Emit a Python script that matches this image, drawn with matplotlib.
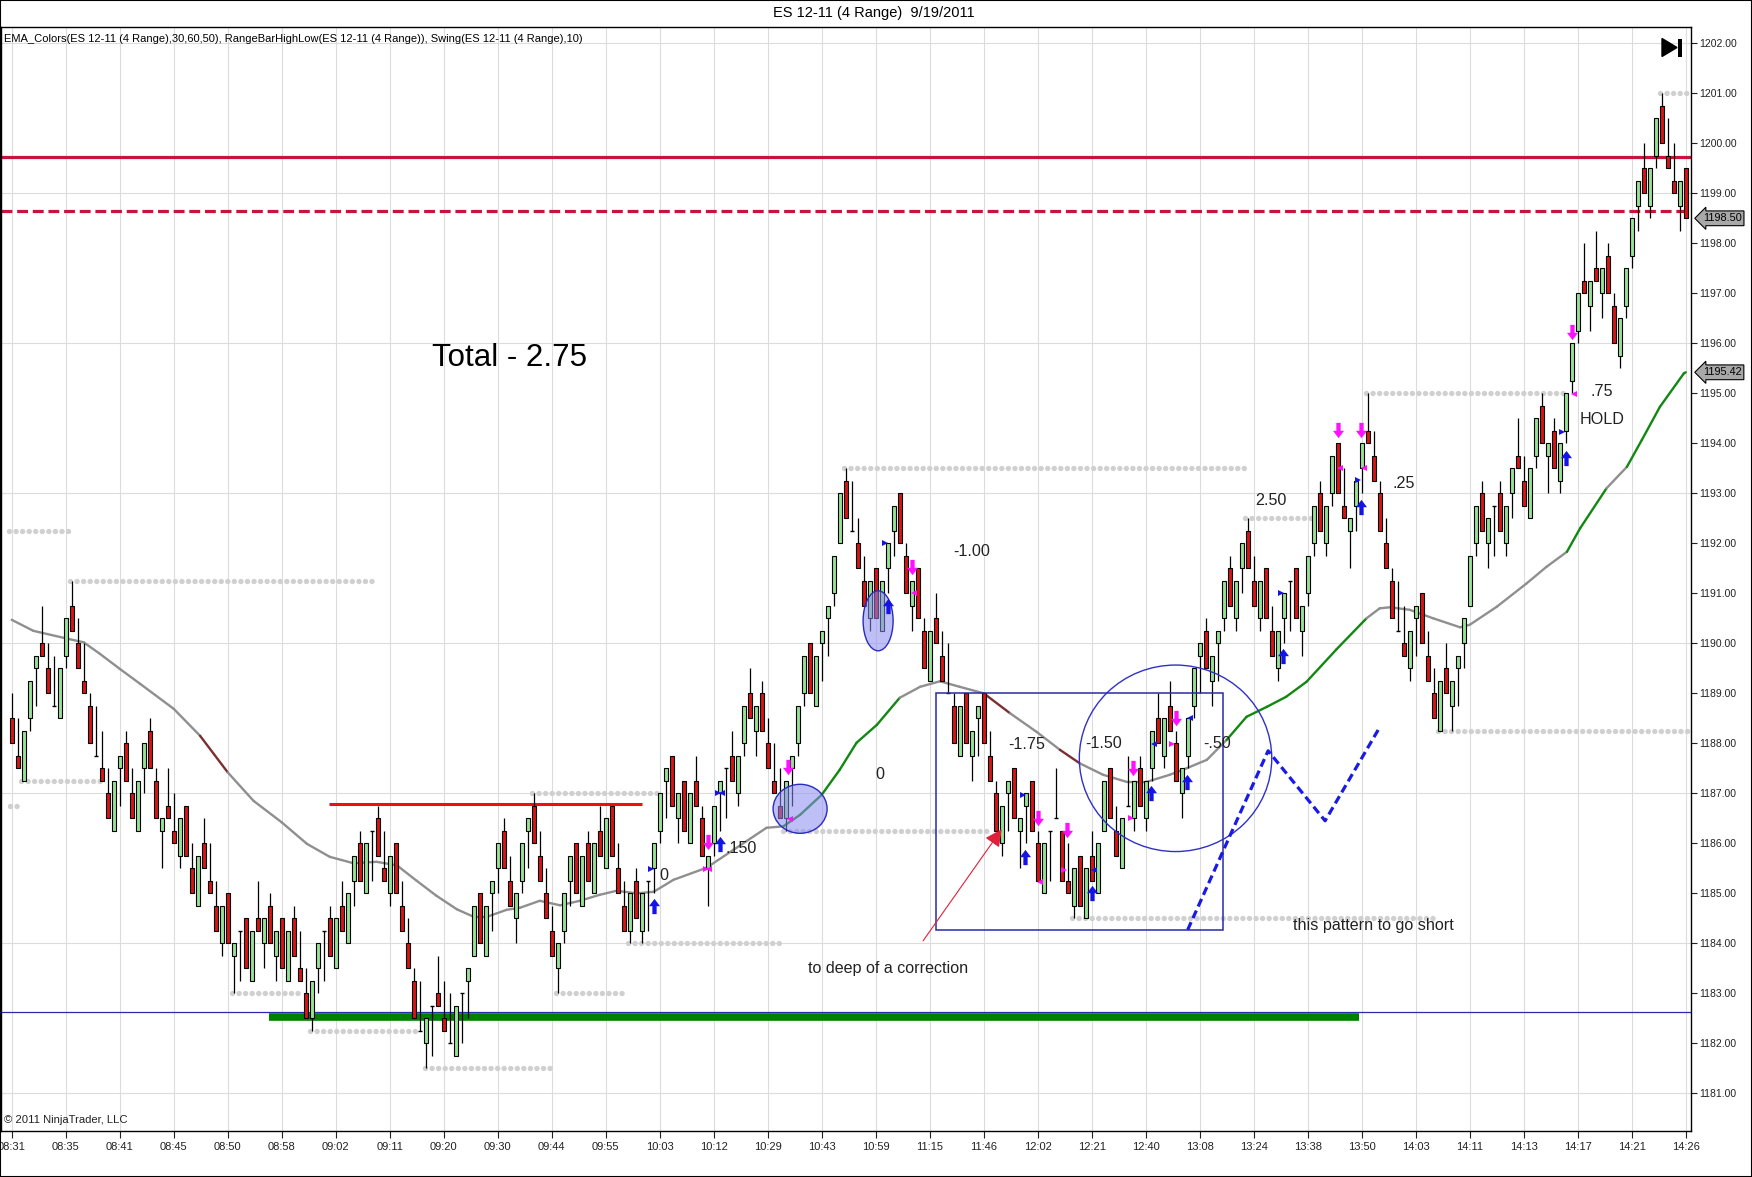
import numpy as np
import matplotlib
matplotlib.use('Agg')
import matplotlib.pyplot as plt
from matplotlib.patches import Rectangle, Ellipse, Polygon
from matplotlib.path import Path
from matplotlib.collections import LineCollection
import matplotlib.transforms as mtransforms

plt.rcParams['font.family'] = ['Liberation Sans', 'DejaVu Sans']

# ---------------- data (4-tick range bars, ES 12-11, 9/19/2011) ----------------
opens = [
    1188.5, 1187.75, 1187.25, 1188.5, 1189.5, 1190, 1189.5, 1188.75, 1188.5, 1189.75,
    1190.75, 1190, 1189.25, 1188.75, 1187.75, 1187.5, 1187, 1186.25, 1187.5, 1188,
    1187, 1186.25, 1187.5, 1188.25, 1187.25, 1186.25, 1186.75, 1186.25, 1185.75, 1186.75,
    1185.5, 1184.75, 1186, 1185.25, 1184.75, 1184, 1185, 1183.75, 1184.25, 1184.5,
    1183.25, 1184.5, 1184, 1184.75, 1183.75, 1184.5, 1183.25, 1184.5, 1183.5, 1183,
    1182.5, 1183.5, 1184.25, 1184.5, 1183.5, 1184.75, 1184, 1185.25, 1186, 1185,
    1186.25, 1186.5, 1185.5, 1185, 1186, 1184.75, 1184, 1183.25, 1182.25, 1182,
    1182.75, 1183, 1182.5, 1182, 1181.75, 1183, 1183.25, 1183.75, 1185, 1183.75,
    1185, 1185.5, 1186.25, 1185.25, 1184.5, 1185.25, 1186.25, 1186.75, 1185.75, 1185,
    1184.25, 1183.5, 1184.25, 1185.25, 1186, 1184.75, 1186, 1185, 1186.25, 1185.5,
    1186.75, 1185.5, 1184.75, 1184.25, 1185.25, 1184.25, 1185.25, 1185.5, 1186.25, 1187.25,
    1187.75, 1186.5, 1187.25, 1186, 1187.25, 1186.5, 1185.5, 1186, 1187, 1187.5,
    1187.75, 1187, 1188, 1189, 1188.25, 1189, 1188, 1187.25, 1186.75, 1186.5,
    1187.5, 1188, 1189, 1190, 1188.75, 1190, 1190.5, 1191, 1192, 1193.25,
    1192.25, 1192, 1191.25, 1190.5, 1191.5, 1190.25, 1191.5, 1192.25, 1193, 1191.75,
    1190.75, 1191.5, 1190.25, 1189.25, 1190.5, 1189.75, 1189, 1188.75, 1187.75, 1189,
    1187.75, 1188.5, 1189, 1187.75, 1187, 1186, 1187, 1187.5, 1186.25, 1186.75,
    1187.25, 1186, 1185, 1186.25, 1186.5, 1186.25, 1185.25, 1184.75, 1185.75, 1184.5,
    1185.75, 1185, 1186.25, 1187.5, 1186.25, 1185.5, 1186.75, 1186.5, 1187.5, 1186.5,
    1187.5, 1188.5, 1187.75, 1188.75, 1188, 1187, 1187.75, 1188.75, 1189.75, 1190.25,
    1189.25, 1190, 1190.5, 1191.5, 1190.5, 1191.5, 1192.25, 1191.25, 1190.5, 1191.5,
    1190.25, 1189.5, 1190.5, 1191.25, 1191.5, 1190.25, 1191, 1192, 1193, 1192,
    1193, 1194, 1192.75, 1192.25, 1192.75, 1193.5, 1194.25, 1193.75, 1193, 1192,
    1191.25, 1190.25, 1190, 1189.5, 1190.5, 1191, 1189.75, 1189, 1188.25, 1189.5,
    1188.75, 1189.5, 1190, 1190.75, 1192, 1193, 1192, 1192.75, 1193, 1192,
    1193, 1193.75, 1193.25, 1192.5, 1193.75, 1194.75, 1193.75, 1194.25, 1193.25, 1194.25,
    1195.25, 1196.25, 1197.25, 1196.75, 1197.5, 1197, 1197.75, 1196.75, 1195.75, 1196.75,
    1197.75, 1198.75, 1199.5, 1198.75, 1199.75, 1200.75, 1199.75, 1199.25, 1198.75, 1199.5,
]
highs = [
    1189, 1188.5, 1188.25, 1189.25, 1189.75, 1190.75, 1190, 1189.75, 1189.5, 1190.5,
    1191.25, 1190.5, 1190, 1189, 1188.75, 1188.25, 1187.5, 1187.25, 1187.75, 1188.25,
    1187.5, 1187.25, 1188, 1188.5, 1187.5, 1186.5, 1187.5, 1187, 1186.5, 1186.75,
    1186, 1185.75, 1186.5, 1186, 1185.25, 1184.75, 1185, 1184, 1184.25, 1184.5,
    1184.25, 1185.25, 1184.5, 1185, 1184.25, 1184.5, 1184.25, 1184.75, 1184.25, 1183.5,
    1183.25, 1184, 1184.25, 1184.75, 1184.5, 1185.25, 1185, 1185.75, 1186.25, 1186,
    1186.25, 1186.75, 1186.25, 1185.75, 1186, 1185.25, 1184.5, 1183.5, 1183.25, 1182.5,
    1182.75, 1183.75, 1183.25, 1183, 1182.75, 1183, 1183.5, 1184.75, 1185, 1184.75,
    1185.25, 1186, 1186.5, 1185.75, 1185, 1186, 1186.5, 1187, 1186.25, 1185.5,
    1184.75, 1184, 1185, 1185.75, 1186, 1185.75, 1186.25, 1186, 1186.75, 1186.5,
    1186.75, 1186, 1185.25, 1185, 1185.5, 1185, 1185.25, 1186, 1187, 1187.5,
    1187.75, 1187, 1187.25, 1187, 1187.75, 1186.75, 1185.75, 1186.75, 1187.25, 1187.5,
    1188.25, 1187.75, 1188.75, 1189.5, 1188.75, 1189.25, 1188.5, 1188, 1187.5, 1187.25,
    1187.75, 1188.75, 1189.75, 1190, 1189.75, 1190.25, 1190.75, 1191.75, 1193, 1193.5,
    1193.25, 1192.5, 1191.75, 1191.25, 1191.5, 1191.25, 1192, 1192.75, 1193, 1192,
    1191.25, 1191.5, 1190.5, 1190.25, 1191, 1190.25, 1190, 1189, 1188.75, 1189,
    1188.25, 1188.75, 1189, 1188.25, 1187.25, 1186.75, 1187.25, 1187.5, 1186.5, 1187,
    1187.25, 1186.25, 1186, 1186.25, 1187.5, 1186.25, 1186, 1185.5, 1185.75, 1185.5,
    1186.25, 1186, 1187.25, 1187.5, 1186.75, 1186.5, 1187.75, 1187.25, 1187.75, 1187.25,
    1188.25, 1189, 1188.5, 1189.25, 1188.25, 1187.5, 1188.5, 1189.5, 1190, 1190.5,
    1189.75, 1190.25, 1191.25, 1191.75, 1191.25, 1192, 1192.5, 1191.75, 1191.25, 1191.5,
    1190.75, 1190.25, 1191, 1191.25, 1191.5, 1190.75, 1191.75, 1192.75, 1193.25, 1192.75,
    1193.75, 1194, 1193.5, 1192.5, 1193.25, 1194, 1195, 1194.25, 1193.25, 1192.5,
    1191.5, 1191.25, 1190.75, 1190.25, 1190.75, 1191, 1190.25, 1189.5, 1189.25, 1190,
    1189.25, 1189.75, 1190.5, 1191.75, 1192.75, 1193.25, 1192.5, 1192.75, 1193.25, 1192.75,
    1193.5, 1194.5, 1193.75, 1193.5, 1194.5, 1195, 1194, 1194.5, 1194, 1195,
    1196, 1197, 1198, 1197.25, 1198.25, 1197.5, 1198, 1197, 1196.5, 1197.5,
    1198.5, 1199.25, 1200, 1199.5, 1200.5, 1201, 1200.5, 1200, 1199.25, 1199.5,
]
lows = [
    1188, 1187.5, 1187.25, 1188.25, 1188.75, 1189.75, 1189, 1188.75, 1188.5, 1189.5,
    1190.25, 1189.5, 1189, 1188, 1187.75, 1187.25, 1186.5, 1186.25, 1186.75, 1187.25,
    1186.5, 1186.25, 1187, 1187.5, 1186.5, 1185.5, 1186.5, 1186, 1185.5, 1185.75,
    1185, 1184.75, 1185.5, 1185, 1184.25, 1183.75, 1184, 1183, 1183.25, 1183.5,
    1183.25, 1184.25, 1183.5, 1184, 1183.25, 1183.5, 1183.25, 1183.75, 1183.25, 1182.5,
    1182.25, 1183, 1183.25, 1183.75, 1183.5, 1184.25, 1184, 1184.75, 1185.25, 1185,
    1185.25, 1185.75, 1185.25, 1184.75, 1185, 1184.25, 1183.5, 1182.5, 1182.25, 1181.5,
    1181.75, 1182.75, 1182.25, 1182, 1181.75, 1182, 1182.5, 1183.75, 1184, 1183.75,
    1184.25, 1185, 1185.5, 1184.75, 1184, 1185, 1185.5, 1186, 1185.25, 1184.5,
    1183.75, 1183, 1184, 1184.75, 1185, 1184.75, 1185.25, 1185, 1185.75, 1185.5,
    1185.75, 1185, 1184.25, 1184, 1184.5, 1184, 1184.25, 1185, 1186, 1186.5,
    1186.75, 1186, 1186.25, 1186, 1186.75, 1185.75, 1184.75, 1185.75, 1186.25, 1186.5,
    1187.25, 1186.75, 1187.75, 1188.5, 1187.75, 1188.25, 1187.5, 1187, 1186.5, 1186.25,
    1186.75, 1187.75, 1188.75, 1189, 1188.75, 1189.25, 1189.75, 1190.75, 1192, 1192.5,
    1192.25, 1191.5, 1190.75, 1190.25, 1190.5, 1190.25, 1191, 1191.75, 1192, 1191,
    1190.25, 1190.5, 1189.5, 1189.25, 1190, 1189.25, 1189, 1188, 1187.75, 1188,
    1187.25, 1187.75, 1188, 1187.25, 1186.25, 1185.75, 1186.25, 1186.5, 1185.5, 1186,
    1186.25, 1185.25, 1185, 1185.25, 1186.5, 1185.25, 1185, 1184.5, 1184.75, 1184.5,
    1185.25, 1185, 1186.25, 1186.5, 1185.75, 1185.5, 1186.75, 1186.25, 1186.75, 1186.25,
    1187.25, 1188, 1187.5, 1188.25, 1187.25, 1186.5, 1187.5, 1188.5, 1189, 1189.5,
    1188.75, 1189.25, 1190.25, 1190.75, 1190.25, 1191, 1191.5, 1190.75, 1190.25, 1190.5,
    1189.75, 1189.25, 1190, 1190.25, 1190.5, 1189.75, 1190.75, 1191.75, 1192.25, 1191.75,
    1192.75, 1193, 1192.5, 1191.5, 1192.25, 1193, 1194, 1193.25, 1192.25, 1191.5,
    1190.5, 1190.25, 1189.75, 1189.25, 1189.75, 1190, 1189.25, 1188.5, 1188.25, 1189,
    1188.25, 1188.75, 1189.5, 1190.75, 1191.75, 1192.25, 1191.5, 1191.75, 1192.25, 1191.75,
    1192.5, 1193.5, 1192.75, 1192.5, 1193.5, 1194, 1193, 1193.5, 1193, 1194,
    1195, 1196, 1197, 1196.25, 1197.25, 1196.5, 1197, 1196, 1195.5, 1196.5,
    1197.5, 1198.25, 1199, 1198.5, 1199.5, 1200, 1199.5, 1199, 1198.25, 1198.5,
]
closes = [
    1188, 1187.5, 1188.25, 1189.25, 1189.75, 1189.75, 1189, 1188.75, 1189.5, 1190.5,
    1190.25, 1189.5, 1189, 1188, 1187.75, 1187.25, 1186.5, 1187.25, 1187.75, 1187.25,
    1186.5, 1187.25, 1188, 1187.5, 1186.5, 1186.5, 1186.5, 1186, 1186.5, 1185.75,
    1185, 1185.75, 1185.5, 1185, 1184.25, 1184.75, 1184, 1184, 1184.25, 1183.5,
    1184.25, 1184.25, 1184.5, 1184, 1184.25, 1183.5, 1184.25, 1183.75, 1183.25, 1182.5,
    1183.25, 1184, 1184.25, 1183.75, 1184.5, 1184.25, 1185, 1185.75, 1185.25, 1186,
    1186.25, 1185.75, 1185.25, 1185.75, 1185, 1184.25, 1183.5, 1182.5, 1182.25, 1182.5,
    1182.75, 1182.75, 1182.25, 1182, 1182.75, 1183, 1183.5, 1184.75, 1184, 1184.75,
    1185.25, 1186, 1185.5, 1184.75, 1185, 1186, 1186.5, 1186, 1185.25, 1184.5,
    1183.75, 1184, 1185, 1185.75, 1185, 1185.75, 1185.25, 1186, 1185.75, 1186.5,
    1185.75, 1185, 1184.25, 1185, 1184.5, 1185, 1185.25, 1186, 1187, 1187.5,
    1186.75, 1187, 1186.25, 1187, 1186.75, 1185.75, 1185.75, 1186.75, 1187.25, 1187.5,
    1187.25, 1187.75, 1188.75, 1188.5, 1188.75, 1188.25, 1187.5, 1187, 1186.5, 1187.25,
    1187.75, 1188.75, 1189.75, 1189, 1189.75, 1190.25, 1190.75, 1191.75, 1193, 1192.5,
    1192.25, 1191.5, 1190.75, 1191.25, 1190.5, 1191.25, 1192, 1192.75, 1192, 1191,
    1191.25, 1190.5, 1189.5, 1190.25, 1190, 1189.25, 1189, 1188, 1188.75, 1188,
    1188.25, 1188.75, 1188, 1187.25, 1186.25, 1186.75, 1187.25, 1186.5, 1186.5, 1187,
    1186.25, 1185.25, 1186, 1186.25, 1186.5, 1185.25, 1185, 1185.5, 1184.75, 1185.5,
    1185.25, 1186, 1187.25, 1186.5, 1185.75, 1186.5, 1186.75, 1187.25, 1186.75, 1187.25,
    1188.25, 1188, 1188.5, 1188.25, 1187.25, 1187.5, 1188.5, 1189.5, 1190, 1189.5,
    1189.75, 1190.25, 1191.25, 1190.75, 1191.25, 1192, 1191.5, 1190.75, 1191.25, 1190.5,
    1189.75, 1190.25, 1191, 1191.25, 1190.5, 1190.75, 1191.75, 1192.75, 1192.25, 1192.75,
    1193.75, 1193, 1192.5, 1192.5, 1193.25, 1194, 1194, 1193.25, 1192.25, 1191.5,
    1190.5, 1190.25, 1189.75, 1190.25, 1190.75, 1190, 1189.25, 1188.5, 1189.25, 1189,
    1189.25, 1189.75, 1190.5, 1191.75, 1192.75, 1192.25, 1192.5, 1192.75, 1192.25, 1192.75,
    1193.5, 1193.5, 1192.75, 1193.5, 1194.5, 1194, 1194, 1193.5, 1194, 1195,
    1196, 1197, 1197, 1197.25, 1197.25, 1197.5, 1197, 1196, 1196.5, 1197.5,
    1198.5, 1199.25, 1199, 1199.5, 1200.5, 1200, 1199.5, 1199, 1199.25, 1198.5,
]

time_labels = ['08:31', '08:35', '08:41', '08:45', '08:50', '08:58', '09:02', '09:11',
               '09:20', '09:30', '09:44', '09:55', '10:03', '10:12', '10:29', '10:43',
               '10:59', '11:15', '11:46', '12:02', '12:21', '12:40', '13:08', '13:24',
               '13:38', '13:50', '14:03', '14:11', '14:13', '14:17', '14:21', '14:26']

# EMA (at bar positions)
ema_bar = [0, 3.6, 9, 12, 14.7, 18, 21.4, 27, 31.4, 36, 40.3, 45, 49.2, 53, 57, 60.8,
           64.2, 67.5, 70.8, 74.2, 77, 79.2, 82.5, 84.7, 88, 91.4, 94.7, 98, 100.8,
           104.2, 107, 110.3, 115.8, 120.3, 125.8, 128.6, 131.4, 135, 138, 140.8, 144.2,
           148, 151.4, 154.7, 158, 162, 166.4, 170.8, 174.7, 178, 181.9, 185.8, 189.2,
           193, 195.8, 199.2, 202.5, 205.8, 209.2, 212.4, 215.8, 220.8, 225.8, 228,
           229.7, 233, 236.9, 241.4, 243, 247.5, 252.5, 255.8, 259.2, 261.4, 265.8,
           269.2, 271.7, 274.7, 278.7, 279]
ema_val = [1190.47, 1190.25, 1190.1, 1190.02, 1189.79, 1189.49, 1189.19, 1188.69, 1188.15,
           1187.42, 1186.85, 1186.42, 1185.99, 1185.73, 1185.6, 1185.63, 1185.56, 1185.25,
           1184.95, 1184.68, 1184.53, 1184.53, 1184.67, 1184.71, 1184.85, 1184.76, 1184.85,
           1184.97, 1185.05, 1185.0, 1185.03, 1185.27, 1185.51, 1185.87, 1186.31, 1186.34,
           1186.57, 1186.97, 1187.47, 1188.01, 1188.37, 1188.91, 1189.13, 1189.24, 1189.13,
           1189.0, 1188.6, 1188.23, 1187.87, 1187.6, 1187.37, 1187.23, 1187.23, 1187.37,
           1187.5, 1187.67, 1188.07, 1188.53, 1188.73, 1188.93, 1189.23, 1189.88, 1190.5,
           1190.7, 1190.72, 1190.67, 1190.5, 1190.32, 1190.37, 1190.73, 1191.2, 1191.53,
           1191.83, 1192.3, 1193.1, 1193.53, 1194.07, 1194.73, 1195.4, 1195.42]
ema_rising = [(128.6, 148), (202.5, 225.8), (259.2, 265.8), (269.2, 279)]
ema_falling = [(31.4, 36), (162, 166.4), (174.7, 178)]

# Swing levels: (first bar, last bar, price)
swing_levels = [(-0.5, 9.5, 1192.25), (9.7, 60.6, 1191.25), (1.6, 15.2, 1187.25),
                (-0.3, 1.4, 1186.75), (36.7, 48.3, 1183.0), (49.7, 68.0, 1182.25),
                (68.9, 90.2, 1181.5), (86.7, 108.4, 1187.0), (90.8, 102.2, 1183.0),
                (102.7, 128.4, 1184.0), (138.7, 205.5, 1193.5), (128.5, 163.0, 1186.25),
                (205.6, 217.0, 1192.5), (176.7, 237.2, 1184.5), (225.7, 259.4, 1195.0),
                (237.7, 279.7, 1188.25), (274.7, 279.4, 1201.0)]

# Signal markers (bar, price)
blue_up = [(107, 1184.74), (118, 1185.99), (146, 1190.75), (168.9, 1185.73), (180, 1185.0),
           (189.9, 1187.0), (195.9, 1187.23), (211.9, 1189.75), (224.9, 1192.73), (259, 1193.7)]
pink_down = [(116, 1186.02), (129.4, 1187.53), (150, 1191.53), (171, 1186.5), (175.9, 1186.27),
             (186.8, 1187.5), (194, 1188.51), (221, 1194.27), (224.9, 1194.27), (260, 1196.23)]
blue_right = [(106.5, 1185.49), (117.7, 1187.0), (145.6, 1192.0), (168.5, 1186.97),
              (211.5, 1191.0), (224.4, 1193.27), (258.4, 1194.23)]
blue_left = [(118.4, 1187.0), (180.4, 1185.47), (190.4, 1187.99), (196.4, 1188.5)]
pink_left = [(116.3, 1185.49), (129.7, 1186.49), (150.4, 1191.0), (171.4, 1185.23),
             (221.4, 1193.5), (225.4, 1193.5), (260.4, 1194.99)]
pink_right = [(115.7, 1185.49), (175.4, 1185.47), (186.5, 1186.5), (193.3, 1187.99)]

# Horizontal reference lines
resistance_solid = 1199.72
resistance_dashed = 1198.65
blue_level = 1182.62
green_support = (42.9, 224.5, 1182.53)
red_top = (52.9, 105.0, 1186.79)

# Drawings
box = (154.0, 201.9, 1184.27, 1189.0)
big_circle = (193.97, 1187.70, 32.07, 3.73)
small_ellipses = [(131.4, 1186.69, 9.0, 0.98), (144.4, 1190.45, 5.0, 1.2)]
red_arrow = ((151.9, 1184.05), (165.0, 1186.28))
pattern_bar = [196.0, 209.4, 218.9, 228.0]
pattern_price = [1184.27, 1187.85, 1186.45, 1188.32]

total_text = ('Total - 2.75', 70.0, 1195.55)
notes = [('-1.00', 156.9, 1191.83), ('0', 143.9, 1187.37), ('.150', 118.9, 1185.89),
         ('0', 107.9, 1185.35), ('-1.75', 166.05, 1187.97), ('-1.50', 178.9, 1187.99),
         ('-.50', 198.55, 1187.99), ('2.50', 207.2, 1192.85), ('.25', 230.2, 1193.2),
         ('.75', 263.05, 1195.03), ('HOLD', 261.4, 1194.47),
         ('to deep of a correction', 132.7, 1183.49),
         ('this pattern to go short', 213.55, 1184.35)]

last_price = 1198.50
ema_last = 1195.42

# ---------------- figure ----------------
W, H = 1752, 1177
fig = plt.figure(figsize=(W / 100, H / 100), dpi=100)
ax = fig.add_axes([1 / W, (H - 1131.3) / H, 1690 / W, (1131.3 - 27.3) / H])
ax.set_xlim(-1.78, 279.88)
ax.set_ylim(1180.24, 1202.32)

n = len(opens)
x = np.arange(n)
o = np.array(opens); h = np.array(highs); l = np.array(lows); c = np.array(closes)

# grid
for gp in np.arange(1181, 1203, 3):
    ax.axhline(gp, color='#dcdcdc', lw=0.8, zorder=0)
tick_pos = np.arange(0, n, 9)
for tp in tick_pos:
    ax.axvline(tp, color='#dcdcdc', lw=0.8, zorder=0)

# swing dots
for a, b, p in swing_levels:
    ax.plot([a, b], [p, p], color='#d0d0d0', lw=3.9, linestyle=(0, (0.01, 1.2)),
            dash_capstyle='round', solid_capstyle='round', zorder=1)

# horizontal lines
ax.axhline(resistance_solid, color='#c8143c', lw=2.3, zorder=2)
ax.axhline(resistance_dashed, color='#c8143c', lw=2.3, linestyle=(0, (3.4, 1.5)), zorder=2)
ax.axhline(blue_level, color='#2a2ab0', lw=0.9, zorder=2)
ax.plot([green_support[0], green_support[1]], [green_support[2]] * 2,
        color='#008000', lw=5.5, solid_capstyle='butt', zorder=2)
ax.plot([red_top[0], red_top[1]], [red_top[2]] * 2, color='#ee1010', lw=2.2,
        solid_capstyle='butt', zorder=2)

# EMA
segs, cols = [], []
for i in range(len(ema_bar) - 1):
    segs.append([(ema_bar[i], ema_val[i]), (ema_bar[i + 1], ema_val[i + 1])])
    col = '#8f8f8f'
    for a, b in ema_rising:
        if ema_bar[i] >= a and ema_bar[i + 1] <= b:
            col = '#118811'
    for a, b in ema_falling:
        if ema_bar[i] >= a and ema_bar[i + 1] <= b:
            col = '#7a3030'
    cols.append(col)
ax.add_collection(LineCollection(segs, colors=cols, linewidths=1.7, zorder=2.5,
                                 capstyle='round', joinstyle='round'))

# candles
ax.vlines(x, l, h, color='black', lw=0.9, zorder=3)
bw = 0.66
body_lo = np.minimum(o, c)
body_hi = np.maximum(o, c)
is_doji = body_hi == body_lo
colors = np.where(c > o, '#95e495', '#d81414')
nd = ~is_doji
ax.bar(x[nd], (body_hi - body_lo)[nd], bottom=body_lo[nd], width=bw, color=colors[nd],
       edgecolor='black', linewidth=0.8, zorder=4)
ax.hlines(o[is_doji], x[is_doji] - bw / 2, x[is_doji] + bw / 2, color='black', lw=1.0, zorder=4)

# signal markers
up_path = Path([(-0.14, -0.5), (0.14, -0.5), (0.14, 0.02), (0.36, 0.02), (0, 0.5),
                (-0.36, 0.02), (-0.14, 0.02), (-0.14, -0.5)], closed=True)
down_path = Path([(vx, -vy) for vx, vy in up_path.vertices], closed=True)


def mk(lst, marker, color, size):
    if lst:
        xs, ys = zip(*lst)
        ax.plot(xs, ys, linestyle='none', marker=marker, color=color, markersize=size,
                markeredgewidth=0, zorder=6)


mk(blue_up, up_path, '#1414e6', 11)
mk(pink_down, down_path, '#ff10ff', 11)
mk(blue_right, '>', '#1414e6', 5)
mk(blue_left, '<', '#1414e6', 5)
mk(pink_left, '<', '#ff10ff', 5)
mk(pink_right, '>', '#ff10ff', 5)

# drawings
ax.add_patch(Rectangle((box[0], box[2]), box[1] - box[0], box[3] - box[2], fill=False,
                       edgecolor='#2a2aa8', lw=1.1, zorder=5))
ax.add_patch(Ellipse((big_circle[0], big_circle[1]), big_circle[2], big_circle[3], fill=False,
                     edgecolor='#3030c8', lw=1.0, zorder=5))
for ex, ey, ew, eh in small_ellipses:
    ax.add_patch(Ellipse((ex, ey), ew, eh, facecolor=(0.55, 0.55, 0.95, 0.55),
                         edgecolor='#2a2ac0', lw=1.0, zorder=5))
ax.annotate('', xy=red_arrow[1], xytext=red_arrow[0],
            arrowprops=dict(arrowstyle='-|>', color='#e0203a', lw=0.8, mutation_scale=26,
                            shrinkA=0, shrinkB=0), zorder=5)
ax.plot(pattern_bar, pattern_price, color='#1a1ae6', lw=2.3, linestyle=(0, (2.6, 1.4)),
        zorder=5)

# text notes
ax.text(total_text[1], total_text[2], total_text[0], fontsize=22.5, ha='left', va='baseline',
        color='black', zorder=7)
for t, tx, ty in notes:
    ax.text(tx, ty, t, fontsize=11.6, ha='left', va='center', color='#222222', zorder=7)

ax.text(0.0015, 0.9893, 'EMA_Colors(ES 12-11 (4 Range),30,60,50), RangeBarHighLow(ES 12-11 '
        '(4 Range)), Swing(ES 12-11 (4 Range),10)', transform=ax.transAxes, fontsize=8,
        ha='left', va='center', color='black')
ax.text(0.0015, 0.0055, '\u00a9 2011 NinjaTrader, LLC', transform=ax.transAxes, fontsize=8.1,
        ha='left', va='bottom', color='#222222')

# axes styling
ax.yaxis.tick_right()
ax.set_yticks(np.arange(1181, 1203, 1))
ax.set_yticklabels(['%.2f' % v for v in np.arange(1181, 1203, 1)])
ax.tick_params(axis='y', direction='out', length=4, width=0.8, labelsize=7.5, pad=2,
               colors='#222222')
ax.set_xticks(tick_pos)
ax.set_xticklabels(time_labels)
ax.tick_params(axis='x', direction='out', length=5, width=0.8, labelsize=8, pad=3,
               colors='#222222')
for s in ax.spines.values():
    s.set_color('black')
    s.set_linewidth(1.0)

# price flags on the right axis
btrans = mtransforms.blended_transform_factory(ax.transAxes, ax.transData)
for val in (last_price, ema_last):
    ax.text(1.007, val, '%.2f' % val, transform=btrans, fontsize=7.8, ha='left', va='center',
            color='black', zorder=8, clip_on=False,
            bbox=dict(boxstyle='larrow,pad=0.22', facecolor='#a8a8a8', edgecolor='black',
                      lw=0.8))

# title
fig.text(0.4985, 1 - 13 / H, 'ES 12-11 (4 Range)  9/19/2011', ha='center', va='center',
         fontsize=10.5, color='black')

# "go to end" icon
fig.patches.append(Polygon([(1662 / W, 1 - 38.5 / H), (1662 / W, 1 - 56.5 / H),
                            (1677 / W, 1 - 47.5 / H)], closed=True, transform=fig.transFigure,
                           facecolor='black', edgecolor='black', figure=fig))
fig.patches.append(Rectangle((1678 / W, 1 - 56.5 / H), 3.5 / W, 18 / H,
                             transform=fig.transFigure, facecolor='black', edgecolor='none',
                             figure=fig))
# outer frame
fig.patches.append(Rectangle((0, 0), 1, 1, transform=fig.transFigure, fill=False,
                             edgecolor='black', lw=1.5, figure=fig))

fig.savefig('out.png', dpi=100)
